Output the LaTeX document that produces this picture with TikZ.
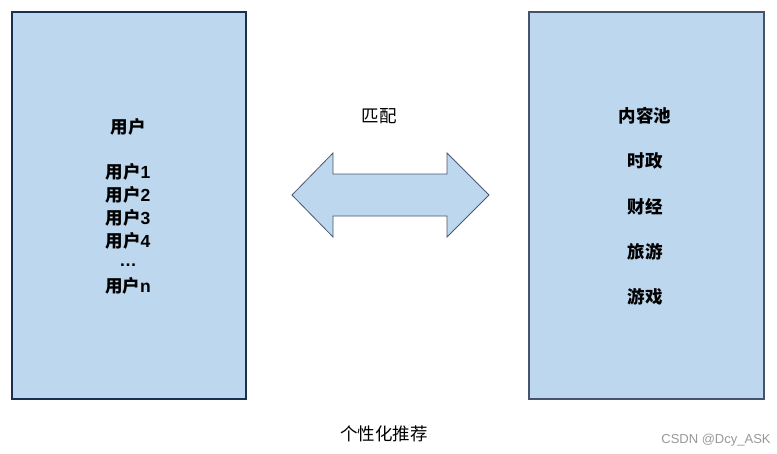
\documentclass[tikz,border=0pt]{standalone}
\usepackage{fontspec}
\setmainfont{Liberation Sans}
\newfontfamily\cjk{Noto Sans CJK SC}
\definecolor{boxfill}{HTML}{BDD7EE}
\definecolor{navy}{HTML}{1B2F4F}
\definecolor{slate}{HTML}{44546A}
\definecolor{arrowline}{HTML}{4A5A70}
\newcommand{\yh}{{\cjk 用户}}
\begin{document}
\begin{tikzpicture}[x=1pt,y=-1pt,
  panel/.style={fill=boxfill,line width=2.2pt},
  lbl/.style={font=\bfseries\fontsize{17.5}{20}\selectfont,inner sep=0pt,anchor=center},
  clbl/.style={font=\cjk\bfseries\fontsize{17.5}{20}\selectfont,inner sep=0pt,anchor=center},
  plain/.style={font=\cjk\fontsize{17.5}{20}\selectfont,inner sep=0pt,anchor=center}]
\useasboundingbox (0,0) rectangle (777,453);
\fill[white] (0,0) rectangle (777,453);
\draw[panel,draw=navy] (12,12) rectangle (246,399);
\draw[panel,draw=slate] (529,12) rectangle (764,399);
% double arrow
\draw[fill=boxfill,draw=arrowline,line width=0.8pt,line join=miter]
  (292,195) -- (333,153) -- (333,174) -- (447,174) -- (447,153) -- (489,195)
  -- (447,237) -- (447,216) -- (333,216) -- (333,237) -- cycle;
\node[plain] (match) at (379,116) {匹配};
% left texts
\node[lbl] (u0) at (128,127) {\yh};
\node[lbl] (u1) at (128,172) {\yh1};
\node[lbl] (u2) at (128,195) {\yh2};
\node[lbl] (u3) at (128,218) {\yh3};
\node[lbl] (u4) at (128,241) {\yh4};
\node[lbl,anchor=base] (ud) at (128,266) {…};
\node[lbl] (un) at (128,286) {\yh n};
% right texts
\node[clbl] (c0) at (645,116) {内容池};
\node[clbl] (c1) at (645,161) {时政};
\node[clbl] (c2) at (645,207) {财经};
\node[clbl] (c3) at (645,252) {旅游};
\node[clbl] (c4) at (645,297) {游戏};
\node[plain] (title) at (384,434) {个性化推荐};
\node[font=\fontsize{13}{15}\selectfont,text=black!40,inner sep=0pt] (wm) at (716,440) {CSDN @Dcy\_ASK};
\end{tikzpicture}
\end{document}
